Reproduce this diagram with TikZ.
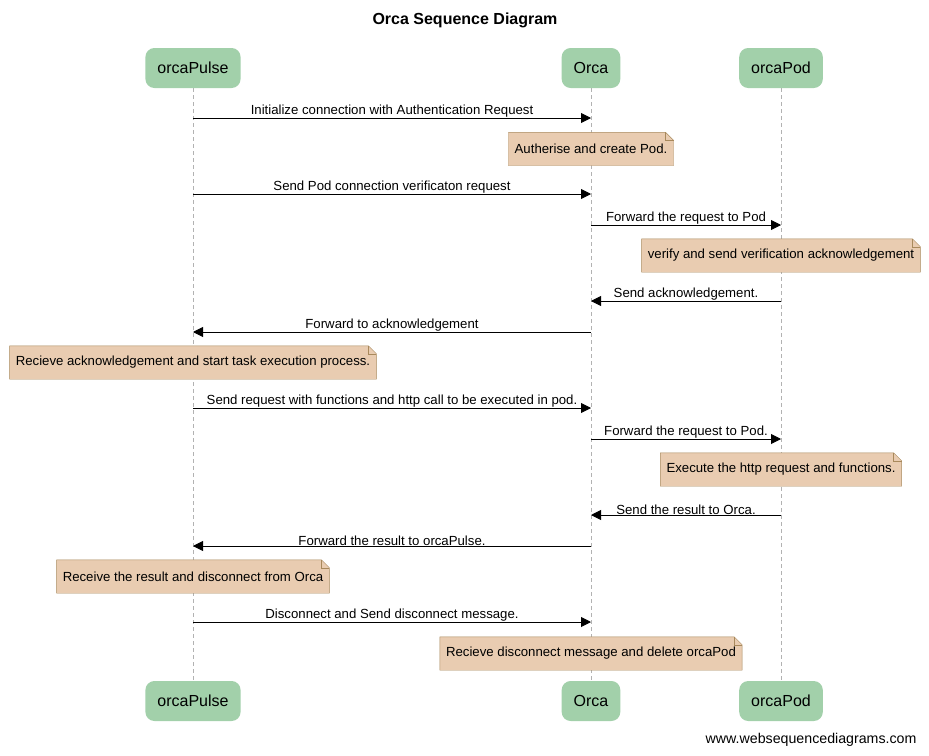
\documentclass[tikz,border=0pt]{standalone}
\usepackage{fontspec}
\setmainfont{Liberation Sans}
\usetikzlibrary{arrows.meta,positioning,backgrounds}
\definecolor{actorgreen}{HTML}{A2D0AA}
\definecolor{notefill}{HTML}{E9CCB1}
\definecolor{noteline}{HTML}{A8895C}
\tikzset{actor/.style={fill=actorgreen,rounded corners=9pt,minimum height=40pt,inner xsep=12pt,font=\fontsize{16}{18}\selectfont},
  note/.style={minimum height=33pt,inner xsep=6pt,font=\fontsize{13.2}{15}\selectfont},
  msg/.style={-{Triangle[length=10pt,width=10pt]},line width=0.9pt},
  life/.style={draw=gray!60,dash pattern=on 4pt off 3pt}}
\newcommand{\notebox}[1]{%
  \begin{scope}[on background layer,line width=0.9pt]
  \draw[noteline,fill=notefill] (#1.south west) -- (#1.south east) -- ([yshift=-8pt]#1.north east)
    -- ([xshift=-8pt]#1.north east) -- (#1.north west) -- cycle;
  \draw[noteline] ([xshift=-8pt]#1.north east) -- ([xshift=-8pt,yshift=-8pt]#1.north east) -- ([yshift=-8pt]#1.north east);
  \end{scope}}

\begin{document}
\begin{tikzpicture}[x=1pt,y=-1pt,
  lbl/.style={above,inner sep=1pt,yshift=-1pt,font=\fontsize{13.2}{15}\selectfont}]
\useasboundingbox (0,0) rectangle (929,755);
\node[font=\fontsize{16}{18}\selectfont\bfseries] (title) at (465,20) {Orca Sequence Diagram};
% participants, top and bottom, with their lifelines
\foreach \n/\x/\t in {pulse/193/orcaPulse,orca/591/Orca,pod/781/orcaPod}{
  \node[actor] (\n) at (\x,68) {\t};
  \node[actor] (\n2) at (\x,701) {\t};
  \begin{scope}[on background layer]\draw[life] (\n) -- (\n2);\end{scope}
}
% messages
\foreach \y/\from/\to/\txt in {118/pulse/orca/Initialize connection with Authentication Request,
  194/pulse/orca/Send Pod connection verificaton request,
  225/orca/pod/Forward the request to Pod,
  301/pod/orca/Send acknowledgement.,
  332/orca/pulse/Forward to acknowledgement,
  408/pulse/orca/Send request with functions and http call to be executed in pod.,
  439/orca/pod/Forward the request to Pod.,
  515/pod/orca/Send the result to Orca.,
  546/orca/pulse/Forward the result to orcaPulse.,
  622/pulse/orca/Disconnect and Send disconnect message.}
  \draw[msg] (\from |- 0,\y) -- node[lbl]{\txt} (\to |- 0,\y);
% notes
\foreach \k/\who/\y/\t in {1/orca/149/Autherise and create Pod.,
  2/pod/255.5/verify and send verification acknowledgement,
  3/pulse/362.5/Recieve acknowledgement and start task execution process.,
  4/pod/469.5/Execute the http request and functions.,
  5/pulse/576.5/Receive the result and disconnect from Orca,
  6/orca/653.5/Recieve disconnect message and delete orcaPod}{
  \node[note] (note\k) at (\who |- 0,\y) {\t};
  \notebox{note\k}
}
\node[anchor=east,font=\fontsize{14.2}{16}\selectfont] (credit) at (920,740) {www.websequencediagrams.com};
\end{tikzpicture}
\end{document}
